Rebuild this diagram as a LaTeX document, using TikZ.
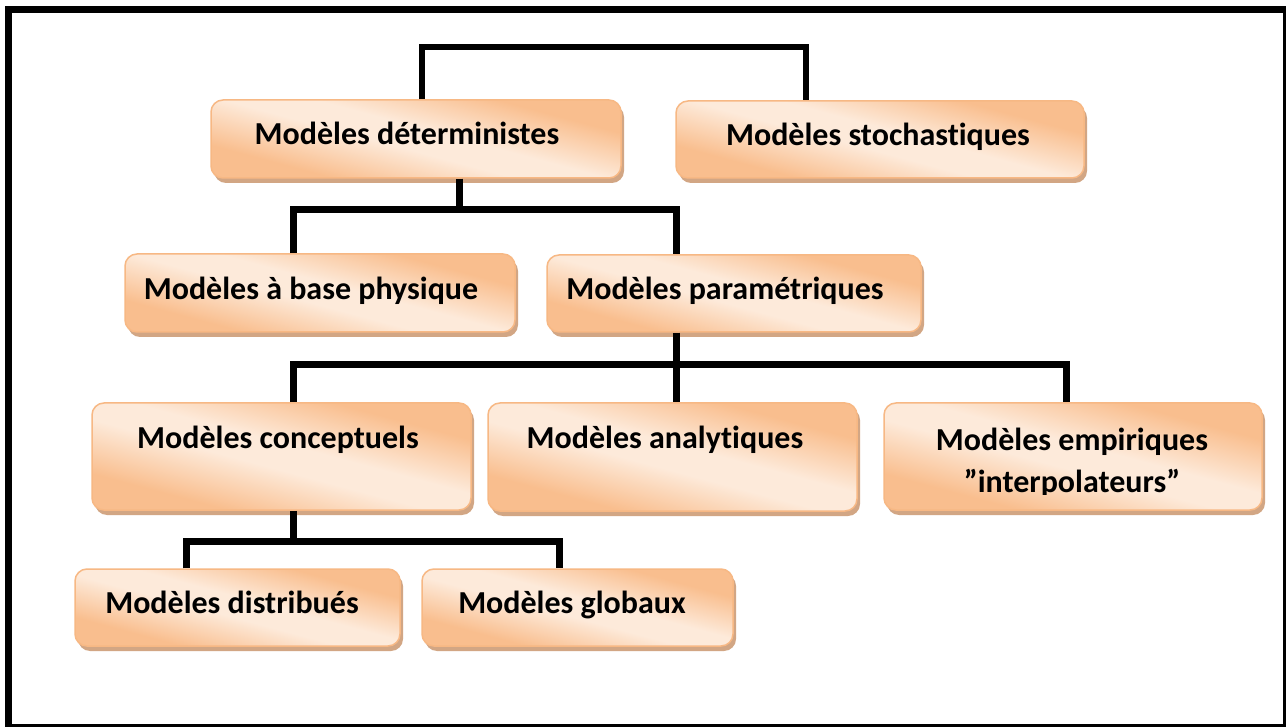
\documentclass[tikz,border=0pt]{standalone}
\usepackage{fontspec}
\setmainfont{Carlito}[Ligatures={NoCommon,NoContextual}]
\usetikzlibrary{shadows,calc}
\definecolor{boxdark}{RGB}{249,190,142}
\definecolor{boxlight}{RGB}{253,234,218}
\definecolor{boxborder}{RGB}{247,184,132}
\definecolor{boxshadow}{RGB}{210,166,132}
\pgfdeclareverticalshading{boxshade}{100bp}{color(0bp)=(boxdark); color(30bp)=(boxdark); color(46bp)=(boxlight); color(54bp)=(boxlight); color(70bp)=(boxdark); color(100bp)=(boxdark)}
\tikzset{
  box/.style={rounded corners=12pt, draw=boxborder, line width=1.5pt,
    shading=boxshade, shading angle=-15,
    drop shadow={shadow xshift=3pt, shadow yshift=-5pt, fill=boxshadow, opacity=1},
    inner sep=0pt},
  lbl/.style={font=\bfseries\fontsize{32}{38}\selectfont, inner sep=0pt, anchor=base},
  conn/.style={line width=7pt, black, line join=miter},
}
\begin{document}
\begin{tikzpicture}[x=1pt,y=-1pt]
\useasboundingbox (0,0) rectangle (1286,727);
% frame
\fill[black] (5,6) rectangle (1286,727);
\fill[white] (12,13) rectangle (1283,724);

% boxes
\node[box, minimum width=410pt, minimum height=78pt] (det) at (416,139) {};
\node[box, minimum width=408pt, minimum height=77pt] (stoch) at (880,139.5) {};
\node[box, minimum width=390pt, minimum height=78pt] (phys) at (320,293) {};
\node[box, minimum width=374pt, minimum height=77pt] (param) at (734,293.5) {};
\node[box, minimum width=379pt, minimum height=107pt] (concept) at (281.5,456.5) {};
\node[box, minimum width=369pt, minimum height=108pt] (analy) at (672.5,457) {};
\node[box, minimum width=378pt, minimum height=107pt] (empir) at (1073,456.5) {};
\node[box, minimum width=325pt, minimum height=77pt] (distrib) at (237.5,607.5) {};
\node[box, minimum width=311pt, minimum height=77pt] (glob) at (577.5,607.5) {};

% labels
\node[lbl] (detT) at (407,145) {Modèles déterministes};
\node[lbl] (stochT) at (878,146) {Modèles stochastiques};
\node[lbl] (physT) at (311,300) {Modèles à base physique};
\node[lbl] (paramT) at (725,300) {Modèles paramétriques};
\node[lbl] (conceptT) at (278,449) {Modèles conceptuels};
\node[lbl] (analyT) at (665,449) {Modèles analytiques};
\node[lbl] (empirT) at (1072,450) {Modèles empiriques};
\begin{scope}
  \clip (880,460) rectangle (1270,494);
  \node[lbl] (empirT2) at (1072,492) {”interpolateurs”};
\end{scope}
\node[lbl] (distribT) at (232,613) {Modèles distribués};
\node[lbl] (globT) at (572,613) {Modèles globaux};

% connectors
\coordinate (b1) at (600,47);
\draw[conn, line width=6pt] ([xshift=6pt]det.north) |- (b1) -| ([xshift=-74pt]stoch.north);

\coordinate (b2) at (459,210);
\draw[conn] ([xshift=43pt]det.south) -- (b2);
\draw[conn] ([xshift=-27pt]phys.north) |- (b2) -| ([xshift=-58pt]param.north);

\coordinate (b3) at (676,365);
\draw[conn] ([xshift=-58pt]param.south) -- (b3) -- (analy.north -| b3);
\draw[conn] ([xshift=11.5pt]concept.north) |- (b3) -| ([xshift=-7pt]empir.north);

\coordinate (b4) at (293,541);
\draw[conn] (concept.south -| b4) -- (b4);
\draw[conn] ([xshift=-51.5pt]distrib.north) |- (b4) -| ([xshift=-18.5pt]glob.north);
\end{tikzpicture}
\end{document}
